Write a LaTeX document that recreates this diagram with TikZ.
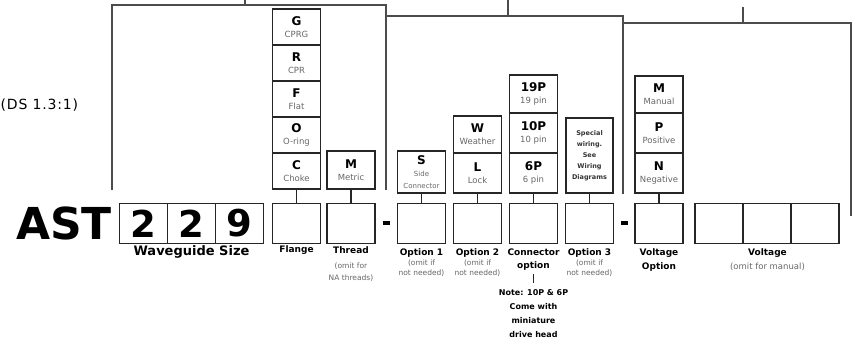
\documentclass[tikz,border=0pt]{standalone}
\usepackage{fontspec}
\setmainfont{DejaVu Sans}
\usetikzlibrary{positioning}

\newcommand{\opt}[2]{{\bfseries\fontsize{12}{14}\selectfont #1}\\{\fontsize{8.5}{9}\selectfont\color{black!60}#2}}
\newcommand{\sub}[1]{{\fontsize{7}{7.5}\selectfont\color{black!60}#1}}

\begin{document}
\begin{tikzpicture}[
    x=1pt, y=-1pt,
    bracket/.style={line width=1.8pt, draw=black!70},
    slot/.style={draw=black!85, line width=1.5pt, minimum width=48pt, minimum height=40pt, inner sep=0pt, outer sep=0pt},
    cell/.style={slot, minimum height=38pt, align=center},
    link/.style={line width=1.5pt, draw=black!85},
    title/.style={font=\bfseries\fontsize{9}{13.5}\selectfont, align=center, inner sep=0pt},
    note/.style={font=\fontsize{7.5}{10}\selectfont, text=black!60, align=center, inner sep=0pt},
    minus/.style={fill, minimum width=7pt, minimum height=3.5pt, inner sep=0pt}
]
\useasboundingbox (0,0) rectangle (854,341);

% group brackets
\draw[bracket] (112,190) |- (386,5) -- (386,190);
\draw[bracket] (245,5) -- (245,-2);
\draw[bracket] (386,16) -| (623,194);
\draw[bracket] (508,16) -- (508,-2);
\draw[bracket] (623,23) -| (851,216);
\draw[bracket] (743,23) -- (743,7);

\node[anchor=west, font=\fontsize{14}{14}\selectfont\addfontfeature{LetterSpace=6}, inner sep=0pt] (ratio) at (0.5,105) {(DS\hspace{5pt}1.3:1)};

% part number
\node[anchor=east, font=\bfseries\fontsize{44}{44}\selectfont, inner sep=0pt] (ast) at (112,223.5) {AST};
\node[slot, font=\bfseries\fontsize{37}{37}\selectfont] (wg1) at (143.5,223.5) {2};
\node[slot, font=\bfseries\fontsize{37}{37}\selectfont, right=0pt of wg1] (wg2) {2};
\node[slot, font=\bfseries\fontsize{37}{37}\selectfont, right=0pt of wg2] (wg3) {9};
\node[title, font=\bfseries\fontsize{13}{13}\selectfont] (wglbl) at (191.5,251.5) {Waveguide Size};

% flange
\node[slot] (flange) at (296.5,223.5) {};
\node[cell, minimum height=36pt, above=14.5pt of flange] (choke) {\opt{C}{Choke}};
\node[cell, minimum height=36pt, above=0pt of choke] (oring) {\opt{O}{O-ring}};
\node[cell, minimum height=36pt, above=0pt of oring] (flat) {\opt{F}{Flat}};
\node[cell, minimum height=36pt, above=0pt of flat] (cpr) {\opt{R}{CPR}};
\node[cell, minimum height=36pt, above=0pt of cpr] (cprg) {\opt{G}{CPRG}};
\draw[link] (choke) -- (flange);
\node[title] (flangelbl) at (296.5,250.5) {Flange};

% thread
\node[slot] (thread) at (351,223.5) {};
\node[cell, above=14.5pt of thread] (metric) {\opt{M}{Metric}};
\draw[link] (metric) -- (thread);
\node[title] (threadlbl) at (351,250.5) {Thread};
\node[note, font=\fontsize{7.5}{12.5}\selectfont] (threadnote) at (351,272) {(omit for\\NA threads)};

\node[minus] (dash1) at (386,223) {};

% options
\node[slot] (opt1) at (421.5,223.5) {};
\node[cell, minimum height=42pt, above=10.5pt of opt1] (side) {{\bfseries\fontsize{12}{14}\selectfont S}\\\sub{Side}\\\sub{Connector}};
\draw[link] (side) -- (opt1);
\node[title] (opt1lbl) at (421.5,253) {Option 1};
\node[note] (opt1note) at (421.5,268) {(omit if\\not needed)};

\node[slot] (opt2) at (477.5,223.5) {};
\node[cell, minimum height=40pt, above=10.5pt of opt2] (lock) {\opt{L}{Lock}};
\node[cell, minimum height=37pt, above=0pt of lock] (weather) {\opt{W}{Weather}};
\draw[link] (lock) -- (opt2);
\node[title] (opt2lbl) at (477.5,253) {Option 2};
\node[note] (opt2note) at (477.5,268) {(omit if\\not needed)};

\node[slot] (conn) at (533.5,223.5) {};
\node[cell, minimum height=40pt, above=10.5pt of conn] (sixpin) {\opt{6P}{6 pin}};
\node[cell, minimum height=40pt, above=0pt of sixpin] (tenpin) {\opt{10P}{10 pin}};
\node[cell, minimum height=38pt, above=0pt of tenpin] (ninepin) {\opt{19P}{19 pin}};
\draw[link] (sixpin) -- (conn);
\node[title] (connlbl) at (533.5,259.5) {Connector\\option};
\node[title, font=\bfseries\fontsize{8}{14}\selectfont] (connnote) at (533.5,314) {Note: 10P \& 6P\\Come with\\miniature\\drive head};
\draw[link, line width=1.8pt] ([yshift=-3pt]connlbl.south) -- ([yshift=7pt]connnote.north);

\node[slot] (opt3) at (589.5,223.5) {};
\node[cell, minimum width=47pt, minimum height=75pt, above=10.5pt of opt3, font=\bfseries\fontsize{6.5}{11}\selectfont, text=black!80] (special) {Special\\wiring.\\See\\Wiring\\Diagrams};
\draw[link] (special) -- (opt3);
\node[title] (opt3lbl) at (589.5,253) {Option 3};
\node[note] (opt3note) at (589.5,268) {(omit if\\not needed)};

\node[minus] (dash2) at (624.5,223) {};

% voltage
\node[slot] (vopt) at (659,223.5) {};
\node[cell, minimum height=40pt, above=10.5pt of vopt] (negative) {\opt{N}{Negative}};
\node[cell, minimum height=40pt, above=0pt of negative] (positive) {\opt{P}{Positive}};
\node[cell, minimum height=37pt, above=0pt of positive] (manual) {\opt{M}{Manual}};
\draw[link] (negative) -- (vopt);
\node[title] (voptlbl) at (659,260) {Voltage\\Option};

\node[slot] (volt1) at (719,223.5) {};
\node[slot, right=0pt of volt1] (volt2) {};
\node[slot, right=0pt of volt2] (volt3) {};
\node[title] (voltlbl) at (767.5,253) {Voltage};
\node[note, font=\fontsize{8.5}{10}\selectfont] (voltnote) at (767.5,267) {(omit for manual)};
\end{tikzpicture}
\end{document}
